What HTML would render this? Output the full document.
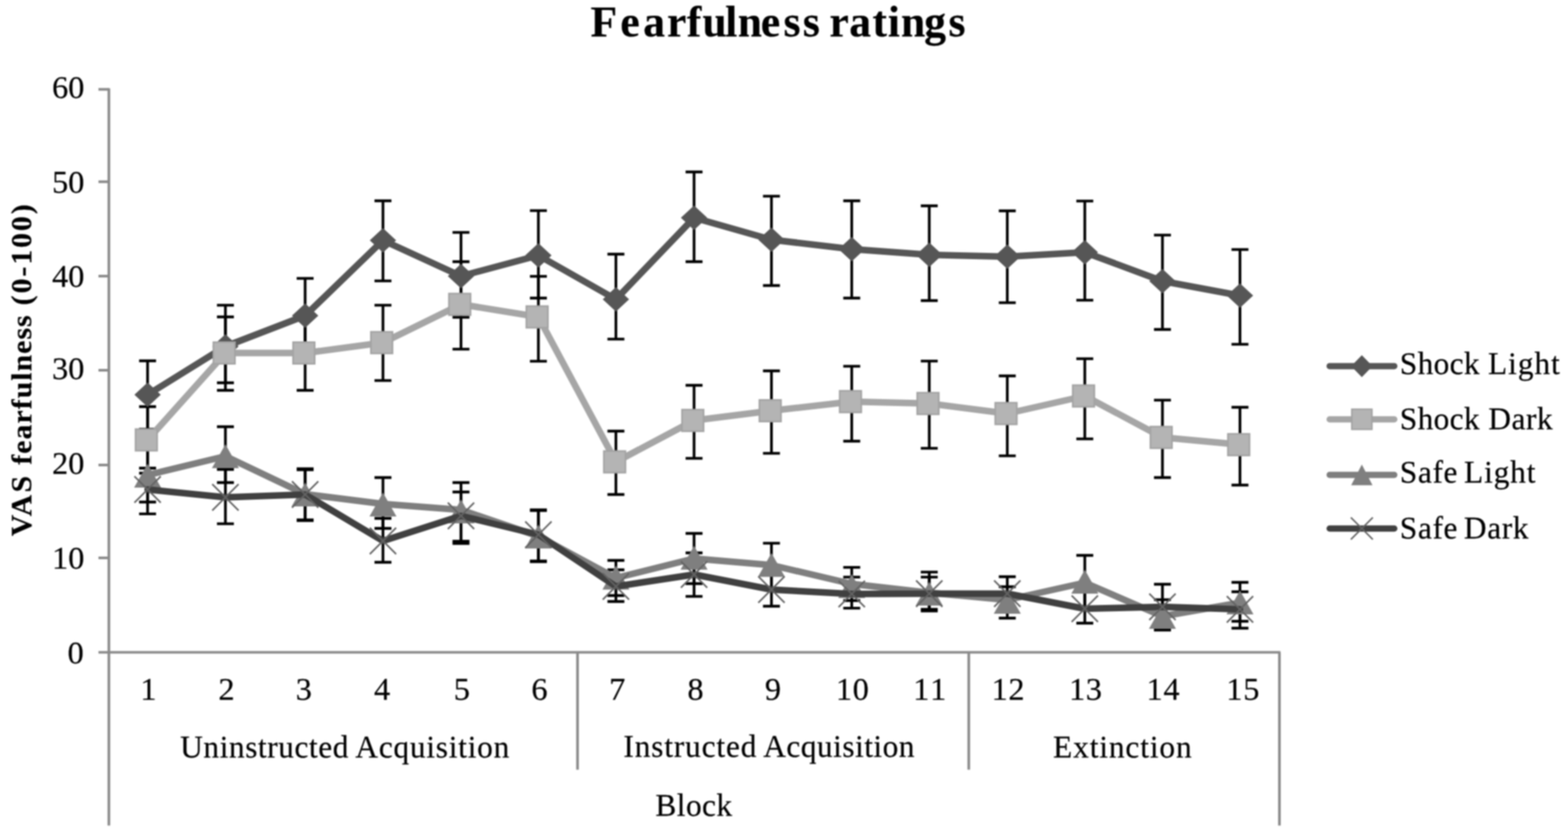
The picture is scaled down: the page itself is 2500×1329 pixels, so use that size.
<!DOCTYPE html>
<html lang="en"><head><meta charset="utf-8"><title>Fearfulness ratings</title>
<style>
html,body{margin:0;padding:0;background:#fff;}
body{width:2500px;height:1329px;overflow:hidden;}
svg{display:block;}
text{font-family:"Liberation Serif","Times New Roman",serif;fill:#000;stroke:#000;stroke-width:0.3;stroke-linejoin:round;}
.t{font-size:50px;}
.d{font-size:51.5px;}
.b{font-weight:bold;stroke-width:0.25px;}
</style></head><body>
<svg width="2500" height="1329" viewBox="0 0 2500 1329">
<defs><filter id="soft" x="0" y="0" width="100%" height="100%" filterUnits="objectBoundingBox" color-interpolation-filters="sRGB"><feGaussianBlur stdDeviation="1.3"/></filter></defs>
<g filter="url(#soft)">
<rect width="2500" height="1329" fill="#fff"/>
<g stroke="#8a8a8a" stroke-width="4.2" fill="none">
<path d="M173.6 140.8V1315.5"/>
<path d="M157 1039.5H2041.5"/>
<path d="M2039.9 1039.5V1315.5"/>
<path d="M920.8 1039.5V1226.5"/>
<path d="M1544.6 1039.5V1226.5"/>
<path d="M157 142.4H174"/>
<path d="M157 289.6H174"/>
<path d="M157 440.0H174"/>
<path d="M157 590.0H174"/>
<path d="M157 741.0H174"/>
<path d="M157 889.0H174"/>
</g>
<g stroke="#000" stroke-width="4.3" fill="none">
<path d="M235.3 575.0V684.0M221.8 575.0h27M221.8 684.0h27M359.4 486.4V622.0M345.9 486.4h27M345.9 622.0h27M486.5 443.6V563.0M473.0 443.6h27M473.0 563.0h27M610.6 320.0V447.6M597.1 320.0h27M597.1 447.6h27M735.0 370.4V505.5M721.5 370.4h27M721.5 505.5h27M858.4 335.6V475.0M844.9 335.6h27M844.9 475.0h27M982.0 405.0V540.4M968.5 405.0h27M968.5 540.4h27M1106.6 274.0V417.0M1093.1 274.0h27M1093.1 417.0h27M1230.0 312.6V455.0M1216.5 312.6h27M1216.5 455.0h27M1358.0 320.0V475.0M1344.5 320.0h27M1344.5 475.0h27M1481.6 328.0V479.0M1468.1 328.0h27M1468.1 479.0h27M1606.0 336.0V482.4M1592.5 336.0h27M1592.5 482.4h27M1729.6 320.4V478.4M1716.1 320.4h27M1716.1 478.4h27M1853.4 374.6V525.0M1839.9 374.6h27M1839.9 525.0h27M1977.0 397.6V548.6M1963.5 397.6h27M1963.5 548.6h27"/>
<path d="M235.3 648.0V754.0M221.8 648.0h27M221.8 754.0h27M359.4 505.0V610.0M345.9 505.0h27M345.9 610.0h27M486.5 504.0V622.0M473.0 504.0h27M473.0 622.0h27M610.6 486.4V606.4M597.1 486.4h27M597.1 606.4h27M735.0 417.0V556.4M721.5 417.0h27M721.5 556.4h27M858.4 440.4V575.6M844.9 440.4h27M844.9 575.6h27M982.0 687.0V788.0M968.5 687.0h27M968.5 788.0h27M1106.6 614.0V730.4M1093.1 614.0h27M1093.1 730.4h27M1230.0 591.0V722.4M1216.5 591.0h27M1216.5 722.4h27M1358.0 583.6V703.0M1344.5 583.6h27M1344.5 703.0h27M1481.6 575.4V714.4M1468.1 575.4h27M1468.1 714.4h27M1606.0 599.0V726.4M1592.5 599.0h27M1592.5 726.4h27M1729.6 571.6V699.4M1716.1 571.6h27M1716.1 699.4h27M1853.4 637.6V761.0M1839.9 637.6h27M1839.9 761.0h27M1977.0 649.0V773.0M1963.5 649.0h27M1963.5 773.0h27"/>
<path d="M235.3 716.0V800.0M221.8 716.0h27M221.8 800.0h27M359.4 680.0V769.0M345.9 680.0h27M345.9 769.0h27M486.5 747.0V828.5M473.0 747.0h27M473.0 828.5h27M610.6 761.0V842.0M597.1 761.0h27M597.1 842.0h27M735.0 769.0V866.0M721.5 769.0h27M721.5 866.0h27M858.4 812.5V895.0M844.9 812.5h27M844.9 895.0h27M982.0 893.0V949.0M968.5 893.0h27M968.5 949.0h27M1106.6 850.0V930.0M1093.1 850.0h27M1093.1 930.0h27M1230.0 865.6V939.0M1216.5 865.6h27M1216.5 939.0h27M1358.0 904.2V957.0M1344.5 904.2h27M1344.5 957.0h27M1481.6 919.6V973.5M1468.1 919.6h27M1468.1 973.5h27M1606.0 935.0V985.0M1592.5 935.0h27M1592.5 985.0h27M1729.6 885.0V969.0M1716.1 885.0h27M1716.1 969.0h27M1853.4 955.6V1004.0M1839.9 955.6h27M1839.9 1004.0h27M1977.0 928.0V990.0M1963.5 928.0h27M1963.5 990.0h27"/>
<path d="M235.3 746.0V818.8M221.8 746.0h27M221.8 818.8h27M359.4 748.0V834.6M345.9 748.0h27M345.9 834.6h27M486.5 748.5V829.5M473.0 748.5h27M473.0 829.5h27M610.6 826.0V896.0M597.1 826.0h27M597.1 896.0h27M735.0 784.0V862.5M721.5 784.0h27M721.5 862.5h27M858.4 813.5V894.0M844.9 813.5h27M844.9 894.0h27M982.0 908.0V958.5M968.5 908.0h27M968.5 958.5h27M1106.6 881.0V950.4M1093.1 881.0h27M1093.1 950.4h27M1230.0 912.0V966.0M1216.5 912.0h27M1216.5 966.0h27M1358.0 919.6V969.2M1344.5 919.6h27M1344.5 969.2h27M1481.6 911.7V971.0M1468.1 911.7h27M1468.1 971.0h27M1606.0 919.0V973.0M1592.5 919.0h27M1592.5 973.0h27M1729.6 943.0V993.0M1716.1 943.0h27M1716.1 993.0h27M1853.4 931.0V1003.0M1839.9 931.0h27M1839.9 1003.0h27M1977.0 943.0V1001.0M1963.5 943.0h27M1963.5 1001.0h27"/>
</g>
<g>
<polyline points="235.3,629.0 359.4,552.0 486.5,503.0 610.6,383.0 735.0,440.0 858.4,407.0 982.0,477.0 1106.6,347.0 1230.0,382.0 1358.0,397.0 1481.6,406.0 1606.0,409.0 1729.6,402.0 1853.4,448.0 1977.0,471.0" fill="none" stroke="#565656" stroke-width="10.5" stroke-linejoin="round" stroke-linecap="round"/>
<path d="M235.3 609.5l21.0 19.5l-21.0 19.5l-21.0 -19.5z" fill="#565656"/>
<path d="M359.4 532.5l21.0 19.5l-21.0 19.5l-21.0 -19.5z" fill="#565656"/>
<path d="M486.5 483.5l21.0 19.5l-21.0 19.5l-21.0 -19.5z" fill="#565656"/>
<path d="M610.6 363.5l21.0 19.5l-21.0 19.5l-21.0 -19.5z" fill="#565656"/>
<path d="M735.0 420.5l21.0 19.5l-21.0 19.5l-21.0 -19.5z" fill="#565656"/>
<path d="M858.4 387.5l21.0 19.5l-21.0 19.5l-21.0 -19.5z" fill="#565656"/>
<path d="M982.0 457.5l21.0 19.5l-21.0 19.5l-21.0 -19.5z" fill="#565656"/>
<path d="M1106.6 327.5l21.0 19.5l-21.0 19.5l-21.0 -19.5z" fill="#565656"/>
<path d="M1230.0 362.5l21.0 19.5l-21.0 19.5l-21.0 -19.5z" fill="#565656"/>
<path d="M1358.0 377.5l21.0 19.5l-21.0 19.5l-21.0 -19.5z" fill="#565656"/>
<path d="M1481.6 386.5l21.0 19.5l-21.0 19.5l-21.0 -19.5z" fill="#565656"/>
<path d="M1606.0 389.5l21.0 19.5l-21.0 19.5l-21.0 -19.5z" fill="#565656"/>
<path d="M1729.6 382.5l21.0 19.5l-21.0 19.5l-21.0 -19.5z" fill="#565656"/>
<path d="M1853.4 428.5l21.0 19.5l-21.0 19.5l-21.0 -19.5z" fill="#565656"/>
<path d="M1977.0 451.5l21.0 19.5l-21.0 19.5l-21.0 -19.5z" fill="#565656"/>
</g><g>
<polyline points="235.3,701.0 359.4,562.5 486.5,562.5 610.6,546.0 735.0,485.0 858.4,505.0 982.0,736.0 1106.6,670.0 1230.0,654.5 1358.0,640.0 1481.6,643.0 1606.0,659.0 1729.6,631.0 1853.4,697.0 1977.0,708.6" fill="none" stroke="#a6a6a6" stroke-width="10.5" stroke-linejoin="round" stroke-linecap="round"/>
<rect x="216.1" y="683.8" width="34.4" height="34.4" fill="#b4b4b4" stroke="#a3a3a3" stroke-width="2.6"/>
<rect x="340.2" y="545.3" width="34.4" height="34.4" fill="#b4b4b4" stroke="#a3a3a3" stroke-width="2.6"/>
<rect x="467.3" y="545.3" width="34.4" height="34.4" fill="#b4b4b4" stroke="#a3a3a3" stroke-width="2.6"/>
<rect x="591.4" y="528.8" width="34.4" height="34.4" fill="#b4b4b4" stroke="#a3a3a3" stroke-width="2.6"/>
<rect x="715.8" y="467.8" width="34.4" height="34.4" fill="#b4b4b4" stroke="#a3a3a3" stroke-width="2.6"/>
<rect x="839.2" y="487.8" width="34.4" height="34.4" fill="#b4b4b4" stroke="#a3a3a3" stroke-width="2.6"/>
<rect x="962.8" y="718.8" width="34.4" height="34.4" fill="#b4b4b4" stroke="#a3a3a3" stroke-width="2.6"/>
<rect x="1087.4" y="652.8" width="34.4" height="34.4" fill="#b4b4b4" stroke="#a3a3a3" stroke-width="2.6"/>
<rect x="1210.8" y="637.3" width="34.4" height="34.4" fill="#b4b4b4" stroke="#a3a3a3" stroke-width="2.6"/>
<rect x="1338.8" y="622.8" width="34.4" height="34.4" fill="#b4b4b4" stroke="#a3a3a3" stroke-width="2.6"/>
<rect x="1462.4" y="625.8" width="34.4" height="34.4" fill="#b4b4b4" stroke="#a3a3a3" stroke-width="2.6"/>
<rect x="1586.8" y="641.8" width="34.4" height="34.4" fill="#b4b4b4" stroke="#a3a3a3" stroke-width="2.6"/>
<rect x="1710.4" y="613.8" width="34.4" height="34.4" fill="#b4b4b4" stroke="#a3a3a3" stroke-width="2.6"/>
<rect x="1834.2" y="679.8" width="34.4" height="34.4" fill="#b4b4b4" stroke="#a3a3a3" stroke-width="2.6"/>
<rect x="1957.8" y="691.4" width="34.4" height="34.4" fill="#b4b4b4" stroke="#a3a3a3" stroke-width="2.6"/>
</g><g>
<polyline points="235.3,757.0 359.4,727.0 486.5,787.4 610.6,803.0 735.0,812.5 858.4,854.5 982.0,921.0 1106.6,890.0 1230.0,900.5 1358.0,930.5 1481.6,944.5 1606.0,956.0 1729.6,928.5 1853.4,982.0 1977.0,960.5" fill="none" stroke="#7f7f7f" stroke-width="10.5" stroke-linejoin="round" stroke-linecap="round"/>
<path d="M235.3 739.0l21.5 38.0h-43.0z" fill="#7f7f7f"/>
<path d="M359.4 708.0l21.5 38.0h-43.0z" fill="#7f7f7f"/>
<path d="M486.5 769.0l21.5 38.0h-43.0z" fill="#7f7f7f"/>
<path d="M610.6 785.0l21.5 38.0h-43.0z" fill="#7f7f7f"/>
<path d="M735.0 796.0l21.5 38.0h-43.0z" fill="#7f7f7f"/>
<path d="M858.4 836.0l21.5 38.0h-43.0z" fill="#7f7f7f"/>
<path d="M982.0 901.4l21.5 38.0h-43.0z" fill="#7f7f7f"/>
<path d="M1106.6 869.7l21.5 38.0h-43.0z" fill="#7f7f7f"/>
<path d="M1230.0 881.2l21.5 38.0h-43.0z" fill="#7f7f7f"/>
<path d="M1358.0 915.0l21.5 38.0h-43.0z" fill="#7f7f7f"/>
<path d="M1481.6 927.0l21.5 38.0h-43.0z" fill="#7f7f7f"/>
<path d="M1606.0 940.0l21.5 38.0h-43.0z" fill="#7f7f7f"/>
<path d="M1729.6 908.0l21.5 38.0h-43.0z" fill="#7f7f7f"/>
<path d="M1853.4 964.0l21.5 38.0h-43.0z" fill="#7f7f7f"/>
<path d="M1977.0 941.0l21.5 38.0h-43.0z" fill="#7f7f7f"/>
</g><g>
<polyline points="235.3,780.0 359.4,792.5 486.5,788.0 610.6,862.0 735.0,822.0 858.4,852.0 982.0,934.5 1106.6,915.5 1230.0,939.5 1358.0,946.5 1481.6,946.0 1606.0,946.0 1729.6,970.0 1853.4,967.0 1977.0,971.0" fill="none" stroke="#404040" stroke-width="10.5" stroke-linejoin="round" stroke-linecap="round"/>
<path d="M214.3 759.0l42.0 42.0m0 -42.0l-42.0 42.0" fill="none" stroke="#636363" stroke-width="2.5"/>
<path d="M338.4 771.5l42.0 42.0m0 -42.0l-42.0 42.0" fill="none" stroke="#636363" stroke-width="2.5"/>
<path d="M465.5 767.0l42.0 42.0m0 -42.0l-42.0 42.0" fill="none" stroke="#636363" stroke-width="2.5"/>
<path d="M589.6 841.0l42.0 42.0m0 -42.0l-42.0 42.0" fill="none" stroke="#636363" stroke-width="2.5"/>
<path d="M714.0 801.0l42.0 42.0m0 -42.0l-42.0 42.0" fill="none" stroke="#636363" stroke-width="2.5"/>
<path d="M837.4 831.0l42.0 42.0m0 -42.0l-42.0 42.0" fill="none" stroke="#636363" stroke-width="2.5"/>
<path d="M961.0 913.5l42.0 42.0m0 -42.0l-42.0 42.0" fill="none" stroke="#636363" stroke-width="2.5"/>
<path d="M1085.6 894.5l42.0 42.0m0 -42.0l-42.0 42.0" fill="none" stroke="#636363" stroke-width="2.5"/>
<path d="M1209.0 918.5l42.0 42.0m0 -42.0l-42.0 42.0" fill="none" stroke="#636363" stroke-width="2.5"/>
<path d="M1337.0 925.5l42.0 42.0m0 -42.0l-42.0 42.0" fill="none" stroke="#636363" stroke-width="2.5"/>
<path d="M1460.6 925.0l42.0 42.0m0 -42.0l-42.0 42.0" fill="none" stroke="#636363" stroke-width="2.5"/>
<path d="M1585.0 925.0l42.0 42.0m0 -42.0l-42.0 42.0" fill="none" stroke="#636363" stroke-width="2.5"/>
<path d="M1708.6 949.0l42.0 42.0m0 -42.0l-42.0 42.0" fill="none" stroke="#636363" stroke-width="2.5"/>
<path d="M1832.4 946.0l42.0 42.0m0 -42.0l-42.0 42.0" fill="none" stroke="#636363" stroke-width="2.5"/>
<path d="M1956.0 950.0l42.0 42.0m0 -42.0l-42.0 42.0" fill="none" stroke="#636363" stroke-width="2.5"/>
</g>
<g>
<path d="M2120.0 583.4H2223.0" stroke="#565656" stroke-width="10" stroke-linecap="round" fill="none"/>
<path d="M2171.3 565.9l17.0 17.5l-17.0 17.5l-17.0 -17.5z" fill="#565656"/>
<text class="t" y="595.9"><tspan x="2231.8" textLength="127.1" lengthAdjust="spacing">Shock</tspan> <tspan x="2372.5" textLength="114.3" lengthAdjust="spacing">Light</tspan></text>
<path d="M2120.0 668.2H2223.0" stroke="#a6a6a6" stroke-width="10" stroke-linecap="round" fill="none"/>
<rect x="2155.4" y="652.2" width="31.9" height="31.9" fill="#b4b4b4" stroke="#a3a3a3" stroke-width="2.6"/>
<text class="t" y="684.0"><tspan x="2231.8" textLength="127.1" lengthAdjust="spacing">Shock</tspan> <tspan x="2373.0" textLength="102.6" lengthAdjust="spacing">Dark</tspan></text>
<path d="M2120.0 756.8H2223.0" stroke="#7f7f7f" stroke-width="10" stroke-linecap="round" fill="none"/>
<path d="M2171.3 740.3l17.0 33.0h-34.0z" fill="#7f7f7f"/>
<text class="t" y="769.0"><tspan x="2231.8" textLength="92.0" lengthAdjust="spacing">Safe</tspan> <tspan x="2334.2" textLength="113.9" lengthAdjust="spacing">Light</tspan></text>
<path d="M2120.0 842.2H2223.0" stroke="#404040" stroke-width="10" stroke-linecap="round" fill="none"/>
<path d="M2153.8 824.7l35.0 35.0m0 -35.0l-35.0 35.0" fill="none" stroke="#636363" stroke-width="2.5"/>
<text class="t" y="858.3"><tspan x="2231.8" textLength="92.0" lengthAdjust="spacing">Safe</tspan> <tspan x="2334.0" textLength="103.1" lengthAdjust="spacing">Dark</tspan></text>
</g>
<text class="b" x="941.5 988.9 1025.6 1063.6 1095.1 1120.1 1156.3 1176.3 1212.9 1249.3 1280.0 1300.9 1322.4 1354.1 1391.1 1415.6 1436.4 1473.6 1512.3" y="58.0" font-size="69.6px">Fearfulness ratings</text>
<text class="b" transform="translate(50 853.5) rotate(-90)" font-size="47.4px"><tspan x="-1" textLength="96" lengthAdjust="spacing">VAS</tspan> <tspan x="113" textLength="238" lengthAdjust="spacing">fearfulness</tspan> <tspan x="367" textLength="161" lengthAdjust="spacing">(0-100)</tspan></text>
<text class="t d" x="134.5" y="155.7" text-anchor="end" textLength="51.6" lengthAdjust="spacing">60</text>
<text class="t d" x="134.5" y="306.9" text-anchor="end" textLength="51.6" lengthAdjust="spacing">50</text>
<text class="t d" x="134.5" y="457.3" text-anchor="end" textLength="51.6" lengthAdjust="spacing">40</text>
<text class="t d" x="134.5" y="604.3" text-anchor="end" textLength="51.6" lengthAdjust="spacing">30</text>
<text class="t d" x="134.5" y="755.3" text-anchor="end" textLength="51.6" lengthAdjust="spacing">20</text>
<text class="t d" x="134.5" y="905.8" text-anchor="end" textLength="51.6" lengthAdjust="spacing">10</text>
<text class="t d" x="133.5" y="1057.3" text-anchor="end">0</text>
<text class="t d" x="236.6" y="1114.6" text-anchor="middle">1</text>
<text class="t d" x="361.0" y="1114.6" text-anchor="middle">2</text>
<text class="t d" x="484.4" y="1114.6" text-anchor="middle">3</text>
<text class="t d" x="609.0" y="1114.6" text-anchor="middle">4</text>
<text class="t d" x="736.3" y="1114.6" text-anchor="middle">5</text>
<text class="t d" x="860.0" y="1114.6" text-anchor="middle">6</text>
<text class="t d" x="984.0" y="1114.6" text-anchor="middle">7</text>
<text class="t d" x="1108.8" y="1114.6" text-anchor="middle">8</text>
<text class="t d" x="1232.4" y="1114.6" text-anchor="middle">9</text>
<text class="t d" x="1359.0" y="1114.6" text-anchor="middle" textLength="52.6" lengthAdjust="spacing">10</text>
<text class="t d" x="1482.4" y="1114.6" text-anchor="middle" textLength="52.6" lengthAdjust="spacing">11</text>
<text class="t d" x="1607.2" y="1114.6" text-anchor="middle" textLength="52.6" lengthAdjust="spacing">12</text>
<text class="t d" x="1730.8" y="1114.6" text-anchor="middle" textLength="52.6" lengthAdjust="spacing">13</text>
<text class="t d" x="1854.4" y="1114.6" text-anchor="middle" textLength="52.6" lengthAdjust="spacing">14</text>
<text class="t d" x="1981.6" y="1114.6" text-anchor="middle" textLength="52.6" lengthAdjust="spacing">15</text>
<text class="t" y="1206.7"><tspan x="287.3" textLength="268.2" lengthAdjust="spacing">Uninstructed</tspan> <tspan x="566.6" textLength="245.4" lengthAdjust="spacing">Acquisition</tspan></text>
<text class="t" y="1206.0"><tspan x="994.0" textLength="212.0" lengthAdjust="spacing">Instructed</tspan> <tspan x="1217.0" textLength="241.0" lengthAdjust="spacing">Acquisition</tspan></text>
<text class="t" y="1206.9"><tspan x="1679.1" textLength="220.8" lengthAdjust="spacing">Extinction</tspan></text>
<text class="t" y="1299.9"><tspan x="1045.0" textLength="122.2" lengthAdjust="spacing">Block</tspan></text>
</g>
</svg></body></html>
